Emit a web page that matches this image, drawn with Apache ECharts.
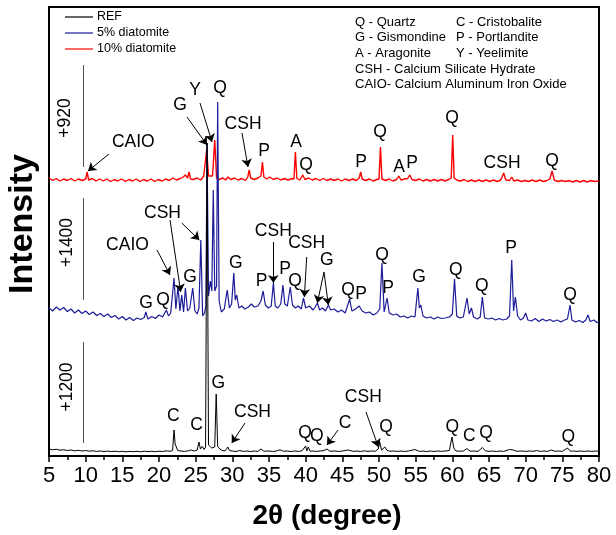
<!DOCTYPE html>
<html><head><meta charset="utf-8">
<script src="https://cdn.jsdelivr.net/npm/echarts@6/dist/echarts.min.js"></script>
<style>html,body{margin:0;padding:0;background:#fff}#c{width:616px;height:535px}</style>
</head><body><div id="c"></div>
<script>
// ---- data (2theta in degree, intensity in arbitrary counts incl. vertical offset) ----
const xTicks = [5,10,15,20,25,30,35,40,45,50,55,60,65,70,75,80];
const seriesNames = ['REF','5% diatomite','10% diatomite'];
const refData = [[5,70],[5.5,62],[6,68],[6.5,58],[7,63],[7.5,55],[8,60],[8.5,52],[9,57],[9.5,50],[10,55],[10.5,48],[11,52],[11.5,46],[12,50],[12.5,45],[13,49],[13.5,44],[14,48],[14.5,43],[15,47],[15.5,42],[16,46],[16.5,43],[17,47],[17.5,42],[18,48],[18.5,44],[19,47],[19.5,43],[20,48],[20.5,45],[21,52],[21.5,47],[21.85,55],[22.05,260],[22.2,120],[22.35,110],[22.55,55],[23,50],[23.5,46],[24,52],[24.4,60],[24.8,50],[25.2,60],[25.45,140],[25.65,70],[25.9,95],[26.15,65],[26.35,90],[26.55,3130],[26.75,110],[27.0,130],[27.2,80],[27.45,100],[27.6,90],[27.8,620],[28.0,95],[28.3,70],[28.6,55],[29.0,50],[29.4,90],[29.6,55],[30,50],[30.5,45],[31,55],[31.5,46],[32,50],[32.5,45],[33,50],[33.5,46],[33.9,70],[34.3,48],[35,50],[35.5,45],[36,50],[36.5,62],[37,47],[37.5,50],[38,45],[38.5,50],[39,46],[39.5,52],[40.0,100],[40.15,50],[40.35,90],[40.6,48],[41,50],[41.5,46],[42,50],[42.5,55],[42.9,70],[43.3,48],[44,50],[44.5,45],[45,50],[45.8,60],[46.5,46],[47,50],[47.5,45],[48,52],[48.5,46],[49,50],[49.5,48],[49.9,70],[50.1,140],[50.35,60],[50.8,90],[51.1,55],[51.5,48],[52,50],[52.5,46],[53,50],[53.5,45],[54,50],[54.9,65],[55.5,46],[56,50],[56.5,45],[57,50],[57.5,46],[58,50],[58.5,46],[59,50],[59.6,55],[59.95,190],[60.2,80],[60.5,50],[61,48],[61.5,50],[62.0,75],[62.4,48],[63,50],[63.5,46],[64.1,85],[64.5,52],[65,46],[65.5,50],[66,45],[66.5,50],[67,46],[67.8,65],[68.3,60],[68.8,47],[69.5,50],[70,46],[70.5,50],[71,47],[71.5,55],[72,46],[72.5,50],[73,46],[73.5,60],[74,47],[74.5,50],[75,46],[75.7,80],[76.1,48],[76.5,50],[77,46],[77.5,50],[78,46],[78.5,50],[79,46],[79.5,50],[80,47]];
const d5Data = [[5,1480],[5.5,1450],[6,1490],[6.5,1460],[7,1485],[7.5,1445],[8,1470],[8.5,1430],[9,1460],[9.5,1425],[10,1450],[10.5,1415],[11,1440],[11.5,1405],[12,1425],[12.5,1395],[13,1420],[13.5,1385],[14,1405],[14.5,1370],[15,1395],[15.5,1360],[16,1385],[16.5,1355],[17,1380],[17.5,1365],[18.0,1385],[18.2,1440],[18.5,1370],[19,1395],[19.5,1375],[20,1410],[20.5,1390],[21.0,1460],[21.3,1400],[21.6,1430],[21.85,1450],[22.05,1780],[22.3,1470],[22.6,1700],[22.85,1450],[23.1,1610],[23.35,1440],[23.6,1680],[23.9,1450],[24.2,1480],[24.6,1680],[24.9,1450],[25.2,1420],[25.45,1480],[25.7,2160],[25.95,1400],[26.2,1430],[26.4,1500],[26.55,3130],[26.75,1600],[27.0,1750],[27.2,1650],[27.4,2660],[27.6,1650],[27.85,1700],[28.0,3540],[28.2,1550],[28.5,1440],[28.9,1470],[29.3,1660],[29.6,1480],[29.9,1520],[30.2,1830],[30.4,1560],[30.6,1610],[30.9,1480],[31.3,1500],[31.7,1470],[32.2,1490],[32.6,1520],[33.0,1490],[33.5,1500],[33.9,1550],[34.2,1650],[34.5,1510],[34.9,1480],[35.3,1500],[35.6,1730],[35.85,1500],[36.2,1480],[36.6,1520],[36.9,1710],[37.15,1520],[37.5,1500],[37.9,1690],[38.2,1510],[38.6,1480],[39.0,1500],[39.4,1470],[39.7,1580],[40.0,1480],[40.5,1500],[41.0,1460],[41.3,1490],[41.6,1530],[41.9,1460],[42.3,1480],[42.7,1450],[43.1,1510],[43.4,1460],[43.9,1470],[44.4,1440],[44.9,1460],[45.4,1430],[46.0,1570],[46.3,1450],[46.8,1470],[47.3,1500],[47.7,1450],[48.2,1430],[48.7,1440],[49.2,1410],[49.7,1430],[50.1,1470],[50.4,1930],[50.7,1440],[51.1,1580],[51.4,1430],[51.9,1410],[52.4,1420],[52.9,1390],[53.4,1400],[53.9,1380],[54.4,1400],[54.9,1390],[55.3,1680],[55.5,1480],[55.7,1510],[56.0,1400],[56.5,1380],[57,1390],[57.5,1370],[58,1390],[58.5,1375],[59,1380],[59.6,1390],[60.0,1420],[60.3,1770],[60.6,1400],[61.0,1380],[61.5,1390],[62.0,1580],[62.3,1420],[62.6,1480],[62.9,1390],[63.4,1370],[63.8,1390],[64.1,1590],[64.4,1380],[64.9,1370],[65.4,1380],[65.9,1360],[66.4,1375],[66.9,1360],[67.4,1370],[67.8,1400],[68.1,1960],[68.35,1450],[68.6,1590],[68.9,1400],[69.3,1360],[69.7,1380],[70.0,1430],[70.3,1360],[70.8,1350],[71.3,1375],[71.8,1345],[72.3,1370],[72.8,1350],[73.3,1365],[73.8,1345],[74.3,1360],[74.8,1340],[75.3,1360],[75.7,1370],[76.05,1510],[76.3,1360],[76.8,1340],[77.3,1355],[77.8,1335],[78.2,1360],[78.5,1410],[78.8,1345],[79.3,1360],[79.7,1335],[80,1345]];
const d10Data = [[5,2780],[5.5,2755],[6,2775],[6.5,2750],[7,2770],[7.5,2755],[8,2775],[8.5,2750],[9,2770],[9.5,2755],[10.0,2770],[10.2,2840],[10.4,2760],[10.9,2775],[11.4,2750],[11.9,2770],[12.4,2750],[12.9,2770],[13.4,2745],[13.9,2765],[14.4,2750],[14.9,2770],[15.4,2745],[15.9,2765],[16.4,2750],[16.9,2770],[17.4,2745],[17.9,2765],[18.4,2750],[18.9,2770],[19.4,2745],[19.9,2765],[20.4,2750],[20.9,2770],[21.4,2755],[21.9,2780],[22.4,2760],[22.9,2775],[23.3,2790],[23.6,2810],[23.9,2780],[24.1,2840],[24.3,2770],[24.7,2765],[25.2,2780],[25.7,2760],[26.1,2800],[26.5,3060],[26.75,2800],[27.0,2780],[27.3,2800],[27.6,3160],[27.85,2780],[28.2,2765],[28.7,2780],[29.1,2760],[29.4,2790],[29.8,2765],[30.3,2780],[30.8,2760],[31.3,2775],[31.8,2755],[32.1,2790],[32.3,2860],[32.5,2780],[33.0,2765],[33.5,2780],[33.9,2800],[34.1,2940],[34.3,2790],[34.7,2770],[35.1,2790],[35.6,2765],[36.1,2780],[36.6,2760],[37.1,2775],[37.6,2760],[38.1,2775],[38.4,2770],[38.6,3040],[38.8,2775],[39.2,2760],[39.6,2810],[39.9,2765],[40.4,2780],[40.9,2760],[41.4,2775],[41.9,2755],[42.4,2775],[42.9,2755],[43.4,2770],[43.9,2755],[44.4,2770],[44.9,2750],[45.4,2770],[45.9,2755],[46.4,2770],[46.9,2755],[47.3,2780],[47.5,2840],[47.7,2770],[48.2,2755],[48.7,2770],[49.2,2750],[49.7,2765],[50.0,2770],[50.2,3090],[50.4,2770],[50.9,2755],[51.4,2770],[51.9,2750],[52.4,2765],[52.7,2800],[53.0,2760],[53.5,2770],[53.9,2775],[54.2,2810],[54.5,2765],[55.0,2755],[55.5,2770],[56,2750],[56.5,2765],[57,2750],[57.5,2765],[58,2750],[58.5,2765],[59,2750],[59.5,2765],[59.85,2780],[60.05,3210],[60.25,2780],[60.6,2760],[61.1,2750],[61.6,2765],[62.1,2745],[62.6,2760],[63.1,2745],[63.6,2760],[64.1,2745],[64.6,2760],[65.1,2745],[65.6,2760],[66.1,2745],[66.6,2760],[67.0,2830],[67.3,2760],[67.8,2755],[68.1,2790],[68.4,2750],[68.9,2760],[69.4,2745],[69.9,2755],[70.4,2745],[70.9,2760],[71.4,2745],[71.9,2760],[72.4,2745],[72.9,2755],[73.3,2770],[73.6,2850],[73.9,2760],[74.4,2745],[74.9,2755],[75.4,2745],[75.9,2755],[76.4,2740],[76.9,2755],[77.4,2740],[77.9,2755],[78.4,2740],[78.9,2755],[79.4,2745],[80,2750]];
// phase labels: [text, 2theta, intensity]
const phaseLabels = [
 ['CAIO',16.5,3140],['G',22.86,3510],['Y',24.91,3660],['Q',28.32,3680],['CSH',31.46,3320],['P',34.32,3050],['A',38.68,3140],['Q',40.05,2910],['P',47.55,2940],['Q',50.14,3240],['A',52.73,2890],['P',54.5,2930],['Q',59.96,3380],['CSH',66.78,2930],['Q',73.59,2950],
 ['G',18.23,1530],['Q',20.55,1560],['CAIO',15.7,2110],['CSH',20.48,2430],['G',24.23,1790],['G',30.46,1930],['P',34.0,1750],['CSH',35.59,2250],['P',37.18,1870],['Q',38.55,1750],['CSH',40.14,2130],['G',42.87,1960],['Q',45.77,1660],['P',47.55,1620],['Q',50.41,2010],['P',51.23,1680],['G',55.46,1790],['Q',60.46,1860],['Q',64.01,1700],['P',68.0,2080],['Q',76.05,1610],
 ['C',21.95,400],['C',25.14,310],['G',28.09,730],['CSH',32.75,440],['Q',39.91,230],['Q',41.51,200],['C',45.37,330],['CSH',47.86,590],['Q',50.96,290],['Q',60.0,290],['C',62.32,200],['Q',64.59,230],['Q',75.82,190]
];
// arrows: [from 2theta, from intensity, to 2theta, to intensity]
const arrows = [
 [13.18,3020,10.32,2850],[23.82,3390,26.55,3110],[25.59,3530,27.23,3140],[31.32,3230,32.14,2890],
 [19.73,2060,21.5,1810],[21.5,2360,22.96,1640],[23.1,2330,25.5,2160],[35.59,2140,35.59,1730],[40.14,1990,39.82,1590],[42.5,1840,41.59,1530],[42.5,1840,43.09,1510],
 [31.73,330,29.92,130],[44.41,260,42.91,110],[48.23,440,49.91,90]
];
// offset scale bars: [label, 2theta, top, bottom, label 2theta, label intensity]
const offsetBars = [['+920',9.64,3910,2890,7.2,3380],['+1400',9.64,2580,1560,7.45,2135],['+1200',9.64,1140,130,7.45,690]];
const keyLines = [['Q - Quartz','C - Cristobalite'],['G - Gismondine','P - Portlandite'],['A - Aragonite','Y - Yeelimite'],['CSH - Calcium Silicate Hydrate',''],['CAIO- Calcium Aluminum Iron Oxide','']];

const FF = '"Liberation Sans", Arial, sans-serif';
const chart = echarts.init(document.getElementById('c'), null, {renderer:'canvas'});

const graphics = [];
keyLines.forEach((row, i) => {
  graphics.push({type:'text', left:355, top:15.5 + i*15.7, style:{text:row[0], font:'13px ' + FF, fill:'#000'}});
  if (row[1]) graphics.push({type:'text', left:456, top:15.5 + i*15.7, style:{text:row[1], font:'13px ' + FF, fill:'#000'}});
});

const option = {
  animation:false,
  backgroundColor:'#fff',
  grid:{left:49, right:17, top:7, bottom:79, show:true, borderColor:'#000', borderWidth:2, outerBoundsMode:'none', containLabel:false},
  legend:{data:seriesNames, orient:'vertical', left:65, top:9, padding:0, itemGap:0, itemWidth:28, itemHeight:1.2, icon:'rect',
    textStyle:{fontFamily:FF, fontSize:12.5, color:'#000', lineHeight:16, padding:[0,0,0,-1]}},
  xAxis:{type:'value', min:5, max:80, interval:5,
    axisLine:{show:true, lineStyle:{color:'#000', width:2}},
    axisTick:{show:true, inside:false, length:6, lineStyle:{color:'#000', width:1.5}},
    minorTick:{show:true, splitNumber:2, length:4, lineStyle:{color:'#000', width:1.5}},
    splitLine:{show:false},
    axisLabel:{fontFamily:FF, fontSize:22, color:'#000', margin:9},
    name:'2θ (degree)', nameLocation:'middle', nameGap:46,
    nameTextStyle:{fontFamily:FF, fontSize:28, fontWeight:'bold', color:'#000', padding:[0,0,0,6]}},
  yAxis:{type:'value', min:0, max:4490,
    axisLine:{show:true, lineStyle:{color:'#000', width:2}}, axisTick:{show:false}, axisLabel:{show:false}, splitLine:{show:false},
    name:'Intensity', nameLocation:'middle', nameGap:9,
    nameTextStyle:{fontFamily:FF, fontSize:34, fontWeight:'bold', color:'#000', padding:[0,0,0,15]}},
  graphic:graphics,
  series:[
    {name:'10% diatomite', type:'line', data:d10Data, symbol:'none', lineStyle:{color:'#ff0000', width:1.4}, itemStyle:{color:'#ff0000'}, z:2},
    {name:'5% diatomite', type:'line', data:d5Data, symbol:'none', lineStyle:{color:'#1c1c9a', width:1.2}, itemStyle:{color:'#1c1c9a'}, z:3},
    {name:'REF', type:'line', data:refData, symbol:'none', lineStyle:{color:'#000', width:1}, itemStyle:{color:'#000'}, z:4},
    {type:'lines', coordinateSystem:'cartesian2d', silent:true, z:5,
      data:offsetBars.map(b => ({coords:[[b[1],b[2]],[b[1],b[3]]]})),
      lineStyle:{color:'#555', width:1, opacity:1}, symbol:['none','none']},
    {type:'lines', coordinateSystem:'cartesian2d', silent:true, z:6,
      data:arrows.map(a => ({coords:[[a[0],a[1]],[a[2],a[3]]]})),
      lineStyle:{color:'#000', width:1, opacity:1}, symbol:['none','arrow'], symbolSize:8},
    {type:'scatter', silent:true, z:7, symbolSize:0, itemStyle:{opacity:1},
      data:phaseLabels.map(l => ({value:[l[1],l[2]], label:{formatter:l[0]}})),
      label:{show:true, position:'inside', fontFamily:FF, fontSize:17.5, color:'#000', opacity:1}},
    {type:'scatter', silent:true, z:7, symbolSize:0, itemStyle:{opacity:1},
      data:offsetBars.map(b => ({value:[b[4],b[5]], label:{formatter:b[0]}})),
      label:{show:true, position:'inside', rotate:90, fontFamily:FF, fontSize:17.5, color:'#000', opacity:1}}
  ]
};
chart.setOption(option);
</script></body></html>
